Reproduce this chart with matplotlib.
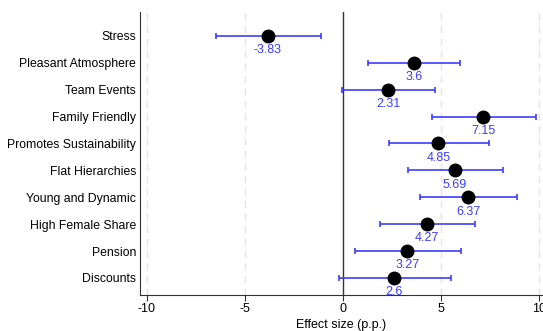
import matplotlib
matplotlib.use("Agg")
import matplotlib.pyplot as plt

labels = ["Stress", "Pleasant Atmosphere", "Team Events", "Family Friendly",
          "Promotes Sustainability", "Flat Hierarchies", "Young and Dynamic",
          "High Female Share", "Pension", "Discounts"]
effects = [-3.83, 3.6, 2.31, 7.15, 4.85, 5.69, 6.37, 4.27, 3.27, 2.6]
ci_low = [-6.46, 1.27, -0.05, 4.55, 2.34, 3.29, 3.92, 1.88, 0.63, -0.2]
ci_high = [-1.12, 5.95, 4.68, 9.80, 7.43, 8.16, 8.87, 6.72, 6.00, 5.48]

plt.rcParams["font.family"] = ["Liberation Sans", "DejaVu Sans"]
plt.rcParams["axes.unicode_minus"] = False
blue = "#3c3cff"

fig = plt.figure(figsize=(5.43, 3.31), dpi=100)
ax = fig.add_axes([0.258, 0.109, 0.742, 0.855])

ys = list(range(len(labels)))
xerr = [[e - lo for e, lo in zip(effects, ci_low)],
        [hi - e for e, hi in zip(effects, ci_high)]]
ax.errorbar(effects, ys, xerr=xerr, fmt="none", ecolor=blue, elinewidth=1.2,
            capsize=2, capthick=1.2, zorder=2)
ax.plot(effects, ys, "o", color="black", ms=9, zorder=3)
for e, y in zip(effects, ys):
    ax.text(e, y + 0.53, f"{e:g}", color=blue, ha="center", va="center", fontsize=9)

for gx in [-10, -5, 5, 10]:
    ax.axvline(gx, color="#e3e3e3", lw=1, ls=(0, (5, 4)), zorder=0)
ax.axvline(0, color="#333333", lw=1, zorder=1)

ax.set_xlim(-10.33, 10.18)
ax.set_ylim(9.63, -0.89)
ax.set_yticks(ys)
ax.set_yticklabels(labels, fontsize=8.8)
ax.set_xticks([-10, -5, 0, 5, 10])
ax.tick_params(axis="x", labelsize=9, length=4, pad=2, color="#333333")
ax.tick_params(axis="y", length=0, pad=3)
ax.set_xlabel("Effect size (p.p.)", fontsize=9, labelpad=3)
for s in ["top", "right"]:
    ax.spines[s].set_visible(False)
for s in ["left", "bottom"]:
    ax.spines[s].set_color("#333333")

fig.savefig("out.png", dpi=100)
